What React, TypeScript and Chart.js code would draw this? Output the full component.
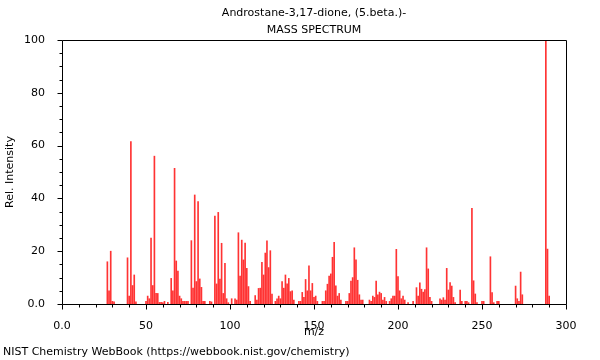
import React, { useEffect, useRef } from "react";
import { Chart, registerables } from "chart.js";

Chart.register(...registerables);

const titleLine1 = "Androstane-3,17-dione, (5.beta.)-";
const titleLine2 = "MASS SPECTRUM";
const xAxisLabel = "m/z";
const yAxisLabel = "Rel. Intensity";
const footerText = "NIST Chemistry WebBook (https://webbook.nist.gov/chemistry)";

const mzValues = [
  27, 28, 29, 30, 31, 39, 40, 41, 42, 43, 44, 50, 51, 52, 53, 54, 55, 56, 57, 58, 59, 60, 61, 63,
  65, 66, 67, 68, 69, 70, 71, 72, 73, 74, 75, 77, 78, 79, 80, 81, 82, 83, 84, 85, 88, 89,
  91, 92, 93, 94, 95, 96, 97, 98, 99, 101, 103, 104, 105, 106, 107, 108, 109, 110, 111, 112,
  115, 116, 117, 118, 119, 120, 121, 122, 123, 124, 125, 127, 128, 129, 130, 131, 132, 133, 134,
  135, 136, 137, 138, 141, 142, 143, 144, 145, 146, 147, 148, 149, 150, 151, 152, 155, 156, 157,
  158, 159, 160, 161, 162, 163, 164, 165, 166, 169, 170, 171, 172, 173, 174, 175, 176, 177, 178,
  179, 183, 184, 185, 186, 187, 188, 189, 190, 191, 192, 193, 195, 196, 197, 198, 199, 200, 201,
  202, 203, 204, 206, 209, 211, 212, 213, 214, 215, 216, 217, 218, 219, 220, 225, 226, 227, 228,
  229, 230, 231, 232, 233, 234, 237, 238, 240, 241, 242, 244, 245, 246, 247, 250, 251, 255, 256,
  257, 259, 260, 270, 271, 272, 273, 274, 288, 289, 290,
];

const intensityValues = [
  16, 5, 20, 1, 0.8, 17.5, 3, 61.5, 7, 11, 0.8, 1, 3, 2, 25, 7, 56, 4, 4, 0.6, 0.6, 0.5, 1, 0.6,
  9.7, 5, 51.4, 16.3, 12.5, 3, 2, 1, 1, 1, 1, 24, 6, 41.3, 8.5, 38.8, 9.5, 6.3, 1, 1, 1, 0.8,
  33.3, 7.6, 34.7, 9.4, 23, 4, 15.4, 2, 0.5, 2, 2, 1.5, 27, 10.6, 24.2, 16.7, 23.1, 13.5, 6.6, 1,
  3.2, 1.5, 5.9, 6, 15.8, 11, 19.3, 23.9, 13.8, 20.2, 3.8, 1, 2, 3, 2, 8.5, 6, 11, 7.6,
  9.7, 4.7, 5, 1.5, 1, 1, 4.4, 2.5, 9.3, 5, 14.5, 5, 7.8, 2.5, 3, 1, 1, 1, 5,
  7.5, 10.6, 11.4, 17.7, 23.4, 6.9, 3, 4, 1.5, 1, 1, 4, 8.7, 10, 21.3, 16.7, 9, 3.5, 1.5,
  1.5, 1.5, 1, 3, 2.5, 8.7, 3.5, 4.5, 4, 1.5, 2.5, 1, 1, 2, 3, 3, 20.7, 10.4, 5,
  2, 3, 1.5, 0.5, 1, 6.2, 3, 8, 5.6, 4.5, 5.5, 21.3, 13.3, 2.5, 1, 2, 1.5, 2.4, 1.5,
  13.5, 5.3, 8.1, 6.8, 2.5, 0.5, 5.3, 1, 1, 1, 0.5, 36.2, 8.8, 3.8, 0.5, 1, 1, 17.9, 4.3,
  0.5, 1, 1, 6.8, 2, 1, 12.1, 3.5, 100, 20.8, 3,
];

const xMin = 0;
const xMax = 300;
const yMin = 0;
const yMax = 100;
const xMajorStep = 50;
const xMinorStep = 10;
const yMajorStep = 20;
const yMinorStep = 5;

const FONT = "DejaVu Sans";

const decorPlugin = {
  id: "decor",
  afterDraw(chart: any) {
    const { ctx, chartArea } = chart;
    const { left, right, top, bottom } = chartArea;
    const xs = chart.scales.x;
    const ys = chart.scales.y;
    ctx.save();
    ctx.strokeStyle = "#000";
    ctx.lineWidth = 1;
    // box
    ctx.beginPath();
    ctx.rect(Math.round(left) + 0.5, Math.round(top) + 0.5, Math.round(right - left), Math.round(bottom - top));
    ctx.stroke();
    // x ticks
    ctx.beginPath();
    for (let v = xMin; v <= xMax; v += xMinorStep) {
      const px = Math.round(xs.getPixelForValue(v)) + 0.5;
      const len = v % xMajorStep === 0 ? 5 : 3;
      ctx.moveTo(px, Math.round(bottom) + 0.5);
      ctx.lineTo(px, Math.round(bottom) + 0.5 + len);
    }
    // y ticks
    for (let v = yMin; v <= yMax; v += yMinorStep) {
      const py = Math.round(ys.getPixelForValue(v)) + 0.5;
      const len = v % yMajorStep === 0 ? 5 : 3;
      ctx.moveTo(Math.round(left) + 0.5, py);
      ctx.lineTo(Math.round(left) + 0.5 - len, py);
    }
    ctx.stroke();

    ctx.fillStyle = "#000";
    ctx.font = `11px "${FONT}"`;
    ctx.textBaseline = "middle";
    ctx.textAlign = "center";
    const cx = (left + right) / 2;
    ctx.fillText(titleLine1, cx, 13);
    ctx.fillText(titleLine2, cx, 30);
    ctx.fillText(xAxisLabel, cx, 332);
    ctx.textAlign = "left";
    ctx.fillText(footerText, 3, 352);
    ctx.save();
    ctx.translate(10, (top + bottom) / 2);
    ctx.rotate(-Math.PI / 2);
    ctx.textAlign = "center";
    ctx.fillText(yAxisLabel, 0, 0);
    ctx.restore();
    ctx.restore();
  },
};

export default function App() {
  const canvasRef = useRef<HTMLCanvasElement | null>(null);

  useEffect(() => {
    if (!canvasRef.current) return;
    const data = mzValues.map((m, i) => ({ x: m, y: intensityValues[i] }));
    const chart = new Chart(canvasRef.current, {
      type: "bar",
      data: {
        datasets: [
          {
            data,
            backgroundColor: "rgba(255,0,0,0.8)",
            borderWidth: 0,
            barThickness: 1,
            grouped: false,
          } as any,
        ],
      },
      options: {
        animation: false,
        responsive: false,
        devicePixelRatio: 1,
        layout: { padding: { top: 40, right: 34, left: 0, bottom: 0 } },
        plugins: { legend: { display: false }, tooltip: { enabled: false }, title: { display: false } },
        scales: {
          x: {
            type: "linear",
            min: xMin,
            max: xMax,
            offset: false,
            grid: { display: false },
            border: { display: false },
            ticks: {
              stepSize: xMajorStep,
              padding: 8,
              color: "#000",
              font: { family: FONT, size: 11 },
              maxRotation: 0,
              callback: (v: any) => (v === 0 ? "0.0" : String(v)),
            },
            afterFit: (s: any) => {
              s.height = 56;
            },
          },
          y: {
            type: "linear",
            min: yMin,
            max: yMax,
            grid: { display: false },
            border: { display: false },
            ticks: {
              stepSize: yMajorStep,
              padding: 9,
              color: "#000",
              font: { family: FONT, size: 11 },
              callback: (v: any) => (v === 0 ? "0.0" : String(v)),
            },
            afterFit: (s: any) => {
              s.width = 62;
            },
          },
        },
      },
      plugins: [decorPlugin],
    });
    return () => chart.destroy();
  }, []);

  return (
    <div style={{ position: "fixed", left: 0, top: 0, width: 600, height: 360, background: "#fff" }}>
      <canvas ref={canvasRef} width={600} height={360} style={{ width: 600, height: 360 }} />
    </div>
  );
}
